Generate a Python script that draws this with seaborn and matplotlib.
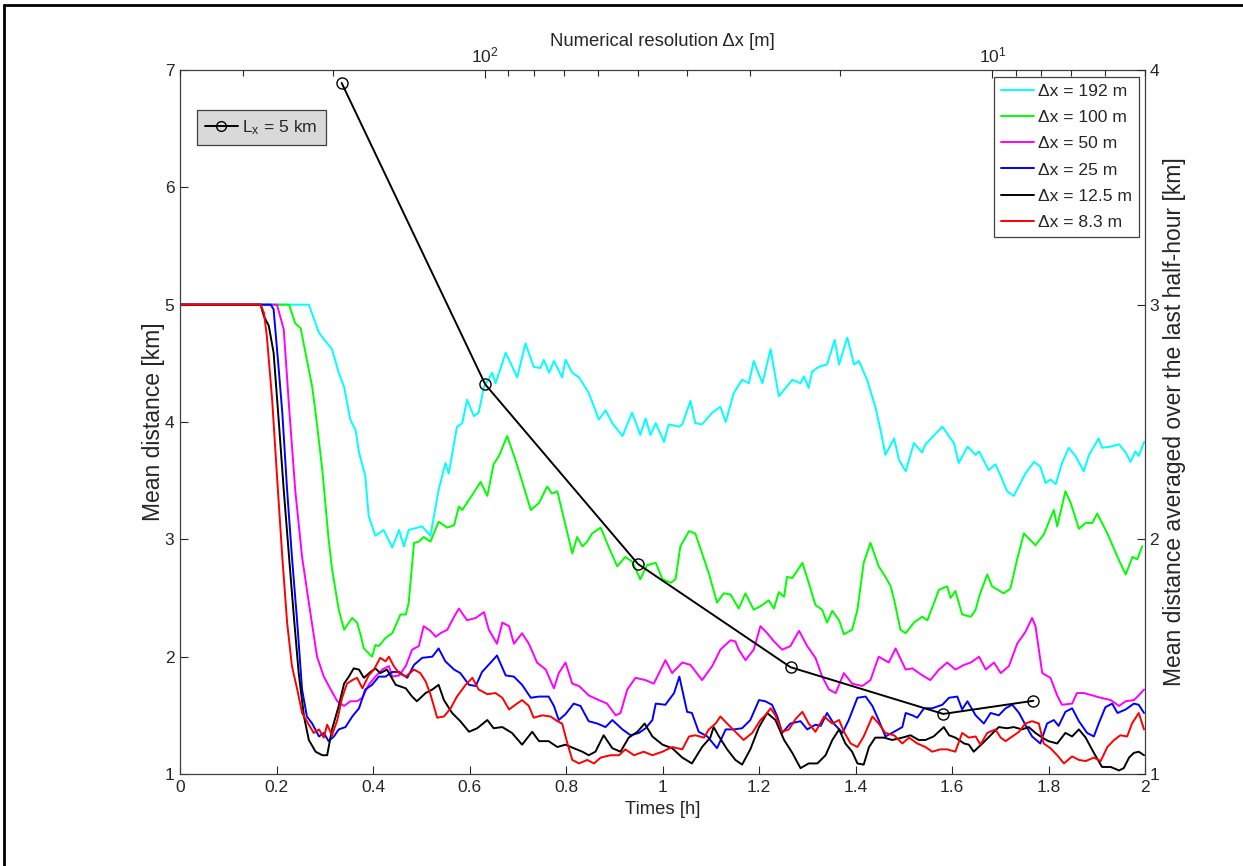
import numpy as np
import pandas as pd
import matplotlib
matplotlib.use("Agg")
import matplotlib.pyplot as plt
import seaborn as sns
from matplotlib.lines import Line2D
from matplotlib.ticker import NullFormatter, FuncFormatter, LogLocator

# ---------------- data ----------------
t_192 = [0, 0.267, 0.288, 0.315, 0.329, 0.340, 0.353, 0.364, 0.371, 0.384, 0.391, 0.405, 0.422, 0.440, 0.454,
         0.464, 0.474, 0.502, 0.519, 0.536, 0.550, 0.557, 0.574, 0.585, 0.595, 0.609, 0.619, 0.630, 0.647, 0.654,
         0.675, 0.699, 0.716, 0.733, 0.747, 0.754, 0.765, 0.775, 0.792, 0.799, 0.813, 0.827, 0.847, 0.868, 0.882,
         0.896, 0.917, 0.937, 0.954, 0.965, 0.975, 0.986, 1.003, 1.013, 1.034, 1.041, 1.058, 1.068, 1.082, 1.103,
         1.120, 1.131, 1.148, 1.165, 1.179, 1.189, 1.207, 1.224, 1.241, 1.269, 1.286, 1.293, 1.303, 1.310, 1.324,
         1.341, 1.357, 1.366, 1.383, 1.397, 1.407, 1.424, 1.441, 1.452, 1.462, 1.480, 1.490, 1.504, 1.521, 1.538,
         1.545, 1.580, 1.604, 1.614, 1.632, 1.649, 1.656, 1.676, 1.690, 1.701, 1.714, 1.728, 1.752, 1.770, 1.783,
         1.794, 1.804, 1.815, 1.828, 1.842, 1.856, 1.873, 1.884, 1.904, 1.911, 1.929, 1.946, 1.960, 1.970, 1.980,
         1.987, 1.998]
d_192 = [5, 5, 4.76, 4.62, 4.42, 4.30, 4.02, 3.93, 3.74, 3.54, 3.20, 3.03, 3.08, 2.93, 3.08,
         2.94, 3.08, 3.11, 3.03, 3.42, 3.65, 3.56, 3.96, 3.99, 4.19, 4.05, 4.08, 4.30, 4.42, 4.33,
         4.59, 4.38, 4.67, 4.47, 4.46, 4.53, 4.42, 4.52, 4.38, 4.53, 4.42, 4.38, 4.25, 4.02, 4.10,
         3.99, 3.88, 4.08, 3.89, 4.03, 3.89, 3.99, 3.83, 3.98, 3.96, 3.98, 4.18, 3.99, 3.98, 4.08,
         4.13, 4.00, 4.25, 4.36, 4.33, 4.52, 4.33, 4.62, 4.22, 4.36, 4.33, 4.39, 4.29, 4.43, 4.47,
         4.49, 4.70, 4.49, 4.72, 4.49, 4.52, 4.36, 4.13, 3.93, 3.72, 3.86, 3.68, 3.58, 3.82, 3.74,
         3.81, 3.96, 3.82, 3.65, 3.79, 3.72, 3.75, 3.59, 3.64, 3.54, 3.41, 3.37, 3.56, 3.66, 3.62,
         3.48, 3.51, 3.47, 3.65, 3.78, 3.71, 3.58, 3.72, 3.86, 3.78, 3.79, 3.81, 3.74, 3.66, 3.75,
         3.71, 3.83]

t_100 = [0, 0.226, 0.239, 0.250, 0.274, 0.281, 0.295, 0.308, 0.315, 0.329, 0.340, 0.357, 0.367, 0.374, 0.381,
         0.398, 0.405, 0.412, 0.426, 0.440, 0.457, 0.468, 0.474, 0.485, 0.495, 0.505, 0.519, 0.536, 0.554, 0.568,
         0.578, 0.585, 0.606, 0.623, 0.637, 0.650, 0.661, 0.678, 0.695, 0.713, 0.727, 0.744, 0.761, 0.771, 0.782,
         0.796, 0.813, 0.823, 0.834, 0.844, 0.854, 0.872, 0.889, 0.906, 0.923, 0.937, 0.954, 0.968, 0.986, 1.000,
         1.017, 1.027, 1.037, 1.055, 1.068, 1.082, 1.096, 1.113, 1.127, 1.141, 1.158, 1.172, 1.189, 1.203, 1.220,
         1.231, 1.241, 1.252, 1.258, 1.269, 1.290, 1.303, 1.317, 1.331, 1.341, 1.352, 1.366, 1.376, 1.393, 1.404,
         1.417, 1.431, 1.448, 1.462, 1.473, 1.483, 1.493, 1.504, 1.521, 1.538, 1.549, 1.573, 1.590, 1.597, 1.607,
         1.621, 1.639, 1.649, 1.656, 1.673, 1.683, 1.707, 1.721, 1.735, 1.749, 1.773, 1.790, 1.811, 1.818, 1.835,
         1.846, 1.863, 1.877, 1.891, 1.901, 1.922, 1.943, 1.960, 1.974, 1.984, 1.994]
d_100 = [5, 5, 4.84, 4.80, 4.30, 4.08, 3.59, 3.00, 2.75, 2.40, 2.23, 2.33, 2.29, 2.19, 2.07,
         2.00, 2.10, 2.09, 2.16, 2.20, 2.36, 2.36, 2.46, 2.97, 2.98, 3.02, 2.98, 3.15, 3.10, 3.12,
         3.28, 3.25, 3.38, 3.49, 3.37, 3.64, 3.71, 3.88, 3.68, 3.44, 3.25, 3.31, 3.45, 3.39, 3.41,
         3.17, 2.88, 3.02, 2.94, 2.98, 3.05, 3.10, 2.93, 2.77, 2.85, 2.81, 2.66, 2.78, 2.80, 2.66,
         2.63, 2.66, 2.94, 3.07, 3.05, 2.88, 2.71, 2.46, 2.54, 2.53, 2.41, 2.54, 2.40, 2.43, 2.48,
         2.41, 2.55, 2.51, 2.68, 2.67, 2.80, 2.63, 2.44, 2.40, 2.29, 2.39, 2.31, 2.19, 2.23, 2.40,
         2.80, 2.97, 2.77, 2.68, 2.60, 2.43, 2.23, 2.20, 2.29, 2.34, 2.31, 2.57, 2.60, 2.50, 2.56,
         2.36, 2.34, 2.40, 2.51, 2.70, 2.60, 2.54, 2.58, 2.83, 3.05, 2.95, 3.04, 3.25, 3.11, 3.41,
         3.31, 3.09, 3.14, 3.14, 3.22, 3.05, 2.85, 2.70, 2.85, 2.83, 2.94]

t_50 = [0, 0.201, 0.215, 0.226, 0.239, 0.253, 0.267, 0.284, 0.298, 0.315, 0.326, 0.340, 0.353, 0.367, 0.378,
        0.391, 0.405, 0.419, 0.433, 0.440, 0.454, 0.468, 0.481, 0.495, 0.505, 0.519, 0.530, 0.540, 0.554, 0.568,
        0.578, 0.595, 0.613, 0.630, 0.640, 0.657, 0.668, 0.682, 0.692, 0.709, 0.723, 0.740, 0.758, 0.775, 0.785,
        0.799, 0.813, 0.827, 0.847, 0.868, 0.885, 0.903, 0.913, 0.927, 0.944, 0.965, 0.982, 1.006, 1.020, 1.041,
        1.058, 1.082, 1.103, 1.120, 1.141, 1.151, 1.158, 1.172, 1.189, 1.203, 1.217, 1.231, 1.248, 1.265, 1.283,
        1.300, 1.317, 1.331, 1.345, 1.359, 1.376, 1.393, 1.414, 1.431, 1.448, 1.469, 1.483, 1.504, 1.518, 1.535,
        1.555, 1.573, 1.590, 1.607, 1.625, 1.639, 1.656, 1.670, 1.687, 1.701, 1.718, 1.735, 1.752, 1.766, 1.773,
        1.787, 1.804, 1.818, 1.828, 1.849, 1.859, 1.873, 1.891, 1.908, 1.929, 1.946, 1.960, 1.977, 1.987, 1.998]
d_50 = [5, 5, 4.79, 4.13, 3.41, 2.85, 2.46, 2.00, 1.83, 1.70, 1.62, 1.58, 1.62, 1.62, 1.65,
        1.76, 1.83, 1.89, 1.92, 1.83, 1.84, 1.92, 2.06, 2.09, 2.26, 2.22, 2.17, 2.20, 2.23, 2.34,
        2.41, 2.31, 2.33, 2.38, 2.23, 2.11, 2.29, 2.26, 2.11, 2.20, 2.11, 1.95, 1.89, 1.73, 1.86,
        1.95, 1.77, 1.75, 1.67, 1.63, 1.60, 1.50, 1.52, 1.72, 1.82, 1.80, 1.77, 1.97, 1.86, 1.95,
        1.93, 1.80, 1.92, 2.06, 2.14, 2.13, 2.06, 1.97, 2.06, 2.26, 2.20, 2.13, 2.06, 2.09, 2.22,
        2.09, 1.99, 1.83, 1.72, 1.69, 1.86, 1.77, 1.75, 1.80, 2.00, 1.95, 2.07, 1.89, 1.90, 1.85,
        1.80, 1.89, 1.95, 1.89, 1.93, 1.95, 2.00, 1.89, 1.95, 1.86, 1.92, 2.11, 2.21, 2.33, 2.26,
        1.86, 1.82, 1.67, 1.59, 1.60, 1.69, 1.69, 1.67, 1.65, 1.63, 1.58, 1.62, 1.63, 1.67, 1.72]

t_25 = [0, 0.188, 0.194, 0.205, 0.212, 0.222, 0.232, 0.243, 0.253, 0.263, 0.274, 0.288, 0.298, 0.308, 0.319,
        0.329, 0.343, 0.357, 0.371, 0.384, 0.398, 0.412, 0.426, 0.440, 0.454, 0.471, 0.485, 0.502, 0.523, 0.536,
        0.550, 0.568, 0.581, 0.599, 0.613, 0.626, 0.644, 0.657, 0.675, 0.692, 0.709, 0.727, 0.744, 0.764, 0.775,
        0.785, 0.799, 0.816, 0.830, 0.847, 0.865, 0.882, 0.896, 0.917, 0.934, 0.951, 0.965, 0.979, 0.986, 1.006,
        1.024, 1.035, 1.051, 1.061, 1.075, 1.093, 1.113, 1.131, 1.148, 1.165, 1.182, 1.200, 1.213, 1.227, 1.238,
        1.248, 1.265, 1.286, 1.300, 1.317, 1.328, 1.341, 1.355, 1.373, 1.386, 1.404, 1.421, 1.435, 1.448, 1.462,
        1.480, 1.497, 1.504, 1.518, 1.528, 1.542, 1.559, 1.580, 1.594, 1.611, 1.621, 1.632, 1.649, 1.666, 1.680,
        1.697, 1.711, 1.725, 1.739, 1.752, 1.766, 1.783, 1.797, 1.811, 1.821, 1.835, 1.849, 1.863, 1.880, 1.894,
        1.904, 1.918, 1.932, 1.943, 1.960, 1.977, 1.987, 1.998]
d_25 = [5, 5, 4.96, 4.43, 4.08, 3.42, 2.85, 2.29, 1.72, 1.49, 1.43, 1.32, 1.35, 1.28, 1.32,
        1.38, 1.40, 1.49, 1.56, 1.72, 1.76, 1.83, 1.83, 1.87, 1.87, 1.82, 1.93, 1.99, 2.00, 2.07,
        1.96, 1.89, 1.86, 1.76, 1.75, 1.87, 1.95, 2.01, 1.84, 1.83, 1.76, 1.65, 1.66, 1.66, 1.58,
        1.46, 1.51, 1.60, 1.58, 1.45, 1.43, 1.40, 1.46, 1.38, 1.33, 1.35, 1.39, 1.46, 1.60, 1.59,
        1.69, 1.83, 1.53, 1.52, 1.36, 1.32, 1.22, 1.38, 1.38, 1.39, 1.46, 1.63, 1.62, 1.59, 1.49,
        1.35, 1.43, 1.45, 1.38, 1.42, 1.41, 1.52, 1.43, 1.35, 1.46, 1.65, 1.66, 1.58, 1.46, 1.32,
        1.36, 1.40, 1.52, 1.50, 1.48, 1.56, 1.56, 1.59, 1.65, 1.66, 1.55, 1.62, 1.50, 1.43, 1.52,
        1.50, 1.56, 1.59, 1.52, 1.42, 1.32, 1.26, 1.43, 1.46, 1.41, 1.53, 1.56, 1.45, 1.35, 1.32,
        1.43, 1.57, 1.60, 1.52, 1.55, 1.60, 1.59, 1.52]

t_12 = [0, 0.167, 0.174, 0.184, 0.194, 0.205, 0.215, 0.226, 0.236, 0.246, 0.257, 0.267, 0.281, 0.295, 0.305,
        0.315, 0.329, 0.340, 0.350, 0.360, 0.371, 0.381, 0.395, 0.405, 0.415, 0.429, 0.447, 0.468, 0.481, 0.491,
        0.509, 0.523, 0.536, 0.547, 0.564, 0.581, 0.599, 0.616, 0.637, 0.650, 0.668, 0.688, 0.709, 0.730, 0.744,
        0.764, 0.782, 0.799, 0.816, 0.834, 0.847, 0.861, 0.878, 0.896, 0.913, 0.930, 0.948, 0.963, 0.979, 1.000,
        1.020, 1.041, 1.061, 1.082, 1.099, 1.106, 1.117, 1.134, 1.151, 1.165, 1.182, 1.200, 1.217, 1.234, 1.252,
        1.269, 1.286, 1.303, 1.321, 1.338, 1.352, 1.366, 1.379, 1.393, 1.404, 1.417, 1.428, 1.441, 1.459, 1.476,
        1.497, 1.514, 1.531, 1.545, 1.562, 1.583, 1.594, 1.607, 1.625, 1.635, 1.645, 1.663, 1.680, 1.697, 1.714,
        1.728, 1.745, 1.759, 1.773, 1.787, 1.800, 1.818, 1.835, 1.849, 1.863, 1.877, 1.894, 1.911, 1.929, 1.946,
        1.956, 1.967, 1.977, 1.987, 1.998]
d_12 = [5, 5, 4.90, 4.82, 4.59, 3.99, 3.42, 2.85, 2.34, 1.86, 1.49, 1.29, 1.19, 1.16, 1.16,
        1.38, 1.58, 1.77, 1.83, 1.90, 1.89, 1.82, 1.87, 1.90, 1.86, 1.89, 1.76, 1.73, 1.66, 1.62,
        1.69, 1.72, 1.76, 1.63, 1.52, 1.45, 1.36, 1.39, 1.46, 1.39, 1.40, 1.35, 1.25, 1.36, 1.28,
        1.28, 1.23, 1.25, 1.22, 1.19, 1.16, 1.19, 1.33, 1.22, 1.19, 1.31, 1.36, 1.43, 1.32, 1.25,
        1.22, 1.14, 1.09, 1.23, 1.31, 1.40, 1.32, 1.21, 1.12, 1.08, 1.21, 1.40, 1.52, 1.46, 1.29,
        1.18, 1.05, 1.09, 1.09, 1.16, 1.29, 1.38, 1.26, 1.19, 1.09, 1.08, 1.23, 1.31, 1.31, 1.29,
        1.31, 1.33, 1.29, 1.29, 1.32, 1.40, 1.33, 1.31, 1.26, 1.25, 1.19, 1.26, 1.33, 1.40, 1.39,
        1.40, 1.38, 1.40, 1.35, 1.31, 1.28, 1.26, 1.35, 1.32, 1.38, 1.31, 1.18, 1.06, 1.06, 1.03,
        1.05, 1.14, 1.18, 1.19, 1.16]

t_8 = [0, 0.167, 0.174, 0.180, 0.191, 0.201, 0.212, 0.222, 0.232, 0.243, 0.253, 0.267, 0.277, 0.288, 0.298,
       0.305, 0.315, 0.326, 0.336, 0.346, 0.357, 0.367, 0.378, 0.391, 0.402, 0.415, 0.426, 0.433, 0.443, 0.454,
       0.468, 0.485, 0.498, 0.509, 0.519, 0.533, 0.547, 0.561, 0.574, 0.592, 0.606, 0.619, 0.637, 0.654, 0.668,
       0.682, 0.695, 0.709, 0.723, 0.733, 0.751, 0.768, 0.782, 0.792, 0.803, 0.813, 0.827, 0.844, 0.858, 0.872,
       0.892, 0.910, 0.923, 0.941, 0.961, 0.979, 1.000, 1.020, 1.041, 1.055, 1.068, 1.086, 1.096, 1.110, 1.120,
       1.134, 1.151, 1.168, 1.186, 1.203, 1.213, 1.224, 1.234, 1.248, 1.262, 1.276, 1.290, 1.303, 1.317, 1.335,
       1.352, 1.366, 1.376, 1.390, 1.404, 1.417, 1.435, 1.448, 1.462, 1.480, 1.497, 1.511, 1.528, 1.545, 1.559,
       1.576, 1.590, 1.607, 1.621, 1.635, 1.649, 1.659, 1.673, 1.690, 1.701, 1.711, 1.725, 1.739, 1.752, 1.766,
       1.780, 1.790, 1.804, 1.818, 1.832, 1.849, 1.863, 1.877, 1.894, 1.908, 1.922, 1.936, 1.949, 1.963, 1.973,
       1.987, 1.998]
d_8 = [5, 5, 4.93, 4.73, 4.19, 3.54, 2.85, 2.29, 1.92, 1.72, 1.52, 1.42, 1.35, 1.38, 1.31,
       1.42, 1.33, 1.46, 1.65, 1.77, 1.80, 1.82, 1.73, 1.84, 1.89, 1.99, 1.96, 2.00, 1.92, 1.86,
       1.83, 1.89, 1.86, 1.79, 1.68, 1.48, 1.49, 1.56, 1.66, 1.76, 1.82, 1.72, 1.68, 1.69, 1.65,
       1.55, 1.59, 1.63, 1.58, 1.48, 1.50, 1.49, 1.45, 1.43, 1.26, 1.12, 1.09, 1.12, 1.09, 1.14,
       1.16, 1.16, 1.21, 1.16, 1.19, 1.16, 1.19, 1.23, 1.21, 1.32, 1.33, 1.31, 1.38, 1.43, 1.49,
       1.43, 1.36, 1.29, 1.35, 1.46, 1.50, 1.56, 1.50, 1.36, 1.38, 1.47, 1.53, 1.43, 1.36, 1.49,
       1.43, 1.46, 1.36, 1.26, 1.23, 1.32, 1.49, 1.43, 1.35, 1.33, 1.26, 1.31, 1.26, 1.23, 1.19,
       1.21, 1.21, 1.19, 1.35, 1.31, 1.32, 1.25, 1.35, 1.38, 1.31, 1.28, 1.32, 1.36, 1.43, 1.45,
       1.43, 1.26, 1.22, 1.16, 1.09, 1.15, 1.12, 1.11, 1.14, 1.11, 1.23, 1.29, 1.33, 1.32, 1.43,
       1.52, 1.38]

series_labels = ["\u0394x = 192 m", "\u0394x = 100 m", "\u0394x = 50 m",
                 "\u0394x = 25 m", "\u0394x = 12.5 m", "\u0394x = 8.3 m"]
series_t = [t_192, t_100, t_50, t_25, t_12, t_8]
series_d = [d_192, d_100, d_50, d_25, d_12, d_8]
colors = ["#00ffff", "#00ff00", "#ff00ff", "#0000ff", "#000000", "#ff0000"]

# averaged distance over last half-hour vs resolution (right / top axes)
resolution = [192, 100, 50, 25, 12.5, 8.3]
avg_last_half_hour = [3.945, 2.66, 1.895, 1.455, 1.256, 1.312]

# ---------------- style ----------------
sns.set_style("ticks")
plt.rcParams['font.family'] = ['Liberation Sans', 'DejaVu Sans']
plt.rcParams['mathtext.fontset'] = 'custom'
plt.rcParams['mathtext.rm'] = 'Liberation Sans'
plt.rcParams['mathtext.it'] = 'Liberation Sans:italic'
FS_TICK = 12.5
FS_XLAB = 13.3
FS_YLAB = 16.5
FS_LEG = 12.6

fig = plt.figure(figsize=(12.43, 8.66), dpi=100)
fig.patch.set_facecolor("white")
ax = fig.add_axes([180 / 1243, 1 - 774 / 866, 965 / 1243, 704 / 866])

frames = []
for lab, tt, dd in zip(series_labels, series_t, series_d):
    frames.append(pd.DataFrame({"t": tt, "d": dd, "series": lab}))
df = pd.concat(frames, ignore_index=True)

sns.lineplot(data=df, x="t", y="d", hue="series", hue_order=series_labels,
             palette=dict(zip(series_labels, colors)), estimator=None, sort=False,
             linewidth=1.4, legend=False, ax=ax)

ax.set_xlim(0, 2)
ax.set_ylim(1, 7)
ax.set_xticks(np.arange(0, 2.01, 0.2))
ax.xaxis.set_major_formatter(FuncFormatter(lambda v, p: f"{v:g}"))
ax.set_yticks(range(1, 8))
ax.set_xlabel("Times [h]", fontsize=FS_XLAB, labelpad=5)
ax.set_ylabel("Mean distance [km]", fontsize=FS_YLAB, labelpad=0)
ax.tick_params(direction="in", length=6, width=0.8, labelsize=FS_TICK, top=False, right=False, pad=4)
for sp in ax.spines.values():
    sp.set_color("#404040")
    sp.set_linewidth(0.9)

# secondary axes: top (log, reversed) and right
ax2 = fig.add_axes(ax.get_position(), frameon=False)
ax2.set_xscale("log")
sns.lineplot(x=resolution, y=avg_last_half_hour, ax=ax2, color="black", marker="o",
             markersize=8, markerfacecolor="none", markeredgecolor="black",
             markeredgewidth=1.0, linewidth=1.4, estimator=None, sort=False)
ax2.set_xlim(400, 5)
ax2.set_ylim(1, 4)
ax2.set_yticks([1, 2, 3, 4])
ax2.xaxis.tick_top()
ax2.xaxis.set_label_position("top")
ax2.yaxis.tick_right()
ax2.yaxis.set_label_position("right")
ax2.xaxis.set_major_locator(LogLocator(base=10))
ax2.xaxis.set_minor_locator(LogLocator(base=10, subs=np.arange(2, 10)))
ax2.xaxis.set_minor_formatter(NullFormatter())
ax2.tick_params(which="major", direction="in", length=6, width=0.8, labelsize=FS_TICK,
                bottom=False, left=False, labelbottom=False, labelleft=False, pad=3)
ax2.tick_params(which="minor", direction="in", length=4, width=0.8,
                bottom=False, left=False)
ax2.set_xlabel("Numerical resolution \u0394x [m]", fontsize=FS_XLAB, labelpad=0)
ax2.set_ylabel("Mean distance averaged over the last half-hour [km]", fontsize=FS_YLAB,
               labelpad=3)

# legends
handles = [Line2D([], [], color=c, lw=1.4) for c in colors]
leg1 = ax2.legend(handles, series_labels, loc="upper right", bbox_to_anchor=(0.994, 0.990),
                  borderaxespad=0, fontsize=FS_LEG, frameon=True, fancybox=False,
                  edgecolor="#404040", framealpha=1, handlelength=1.9, handletextpad=0.25,
                  labelspacing=0.62, borderpad=0.4)
leg1.get_frame().set_linewidth(0.9)
ax2.add_artist(leg1)
h2 = Line2D([], [], color="black", lw=1.4, marker="o", markersize=7, markerfacecolor="none",
            markeredgecolor="black")
leg2 = ax2.legend([h2], [r"L$_{\mathregular{x}}$ = 5 km"], loc="upper left",
                  bbox_to_anchor=(0.0176, 0.943), borderaxespad=0, fontsize=FS_LEG,
                  frameon=True, fancybox=False, facecolor="#d9d9d9", edgecolor="#404040",
                  framealpha=1, handlelength=1.9, handletextpad=0.25, borderpad=0.45)
leg2.get_frame().set_linewidth(0.9)

# figure border (top and left)
fig.add_artist(Line2D([4 / 1243, 1], [1 - 5 / 866, 1 - 5 / 866], transform=fig.transFigure,
                      color="black", lw=2))
fig.add_artist(Line2D([4 / 1243, 4 / 1243], [0, 1 - 5 / 866], transform=fig.transFigure,
                      color="black", lw=2))

fig.savefig("out.png", dpi=100)
